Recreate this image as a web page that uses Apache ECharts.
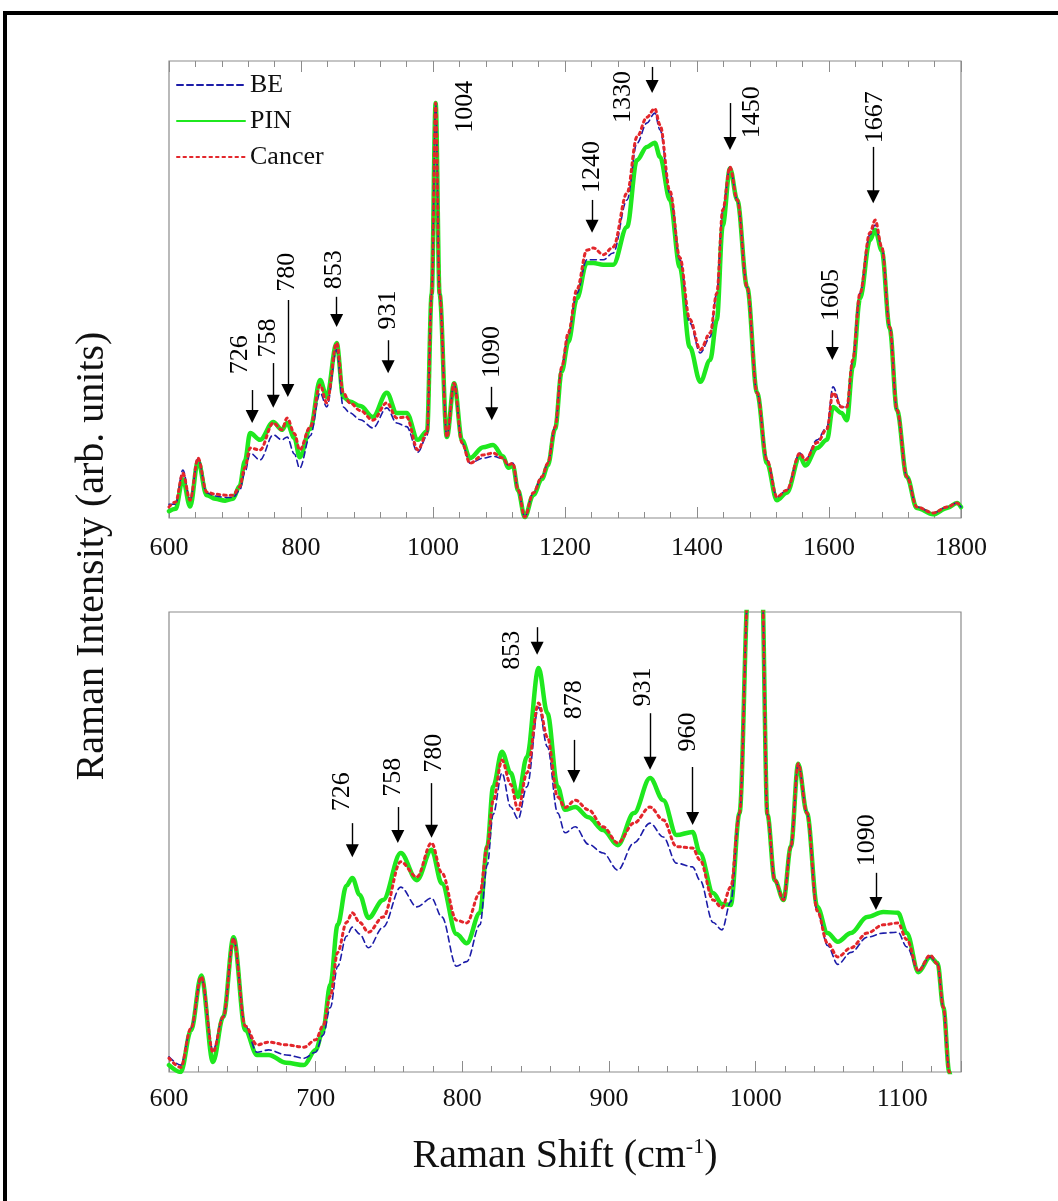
<!DOCTYPE html>
<html>
<head>
<meta charset="utf-8">
<script src="https://cdn.jsdelivr.net/npm/echarts@6/dist/echarts.min.js"></script>
<style>
  html, body { margin: 0; padding: 0; background: #fff; }
  #raman { width: 1058px; height: 1201px; }
</style>
</head>
<body>
<div id="raman"></div>
<script>
// upper panel: full spectrum 600-1800 cm-1
const topShift = [600, 610, 621, 632, 644, 657, 670, 685, 697, 707,
  715, 723, 738, 758, 771, 779, 790, 798, 814, 829,
  839, 854, 864, 874, 890, 909, 930, 945, 960, 977,
  991, 998, 1004, 1010, 1021, 1032, 1044, 1056, 1076, 1091,
  1106, 1114, 1121, 1129, 1139, 1152, 1165, 1174, 1185, 1195,
  1205, 1218, 1233, 1243, 1258, 1273, 1294, 1309, 1324, 1336,
  1344, 1359, 1374, 1389, 1405, 1420, 1430, 1439, 1450, 1461,
  1476, 1491, 1506, 1521, 1536, 1556, 1564, 1582, 1597, 1606,
  1619, 1627, 1636, 1647, 1662, 1670, 1680, 1692, 1703, 1718,
  1733, 1758, 1779, 1794, 1800]
const topBE = [3.0, 3.0, 10.5, 4.0, 13.0, 5.5, 4.8, 4.5, 4.5, 6.0,
  10, 14.2, 12.7, 18.2, 17.1, 17.7, 14, 10.9, 18, 27.4,
  24.3, 36.8, 24.3, 23.0, 21.5, 19.7, 24.1, 20.8, 20, 14.4,
  18, 49, 90.8, 49, 17.7, 29.5, 16.4, 12, 13.1, 13.5,
  13, 11.6, 12, 6.1, 0.2, 5.5, 9, 12, 19.9, 33,
  40, 49.2, 56.5, 56.5, 56.5, 58, 69.6, 82, 86.4, 88.6,
  84.9, 71.1, 56.5, 42.7, 36.1, 39.6, 49.2, 67.4, 76.8, 69.6,
  50.5, 27.4, 12.7, 4.6, 6.1, 14.2, 12.7, 17.1, 19.9, 28.7,
  24.3, 24.3, 34.6, 49.2, 62, 64.1, 59.3, 41.8, 23.6, 9,
  2.4, 1.1, 2.4, 3.3, 2.4]
const topPIN = [1.5, 2, 8.5, 2.5, 12.5, 5, 4.2, 3.8, 4.2, 7,
  12.5, 18.6, 17.1, 21.0, 19.3, 20.8, 17.5, 13.3, 19.5, 30.2,
  26.5, 38.3, 26.5, 25.5, 24.5, 22.1, 27.4, 23.0, 23.0, 17.1,
  19, 49, 90.8, 49, 17.7, 29.5, 17, 13.1, 15.5, 16.0,
  13.5, 11, 11.5, 6, 0.2, 5, 8.5, 11.5, 19.5, 32,
  38.5, 48, 55.8, 55.8, 55.4, 55.4, 63.7, 78.3, 81.2, 82.1,
  79, 69.6, 54.9, 37.4, 29.8, 34.6, 43.3, 64, 76.5, 69.6,
  50.5, 27.4, 12, 3.9, 5.5, 13.5, 11.5, 15.3, 17.1, 24.3,
  23, 21.4, 33, 48, 60.8, 63.0, 58.5, 41.5, 23.6, 9,
  2.2, 0.8, 2.2, 3.3, 2.4]
const topCancer = [2.4, 3.5, 9.8, 3.9, 13.1, 5.7, 5.2, 5.0, 5.0, 6.8,
  11, 15.3, 14.9, 20.8, 19.3, 21.9, 18.5, 14.9, 19.9, 29.1,
  25.2, 38.3, 27.4, 25.2, 23.5, 21.4, 25.2, 21.9, 22.1, 14.9,
  18.6, 49, 90.8, 49, 17.7, 29.5, 16.4, 12.0, 13.8, 14.2,
  13.1, 11.6, 12.0, 6.1, 0.2, 5.5, 9.0, 12.0, 19.9, 33,
  40.5, 50, 58.6, 59.1, 57.6, 59.3, 71.1, 83.4, 87.7, 89.6,
  86, 71.5, 57, 43.5, 36.8, 40.5, 49.2, 67.4, 76.8, 69.6,
  50.5, 27.4, 12.7, 4.6, 6.1, 14.2, 12.7, 16.5, 19.5, 27.4,
  24.3, 24.3, 34.6, 49.2, 62.4, 65.2, 59.3, 41.8, 23.6, 9.0,
  2.4, 1.1, 2.4, 3.3, 2.4]

// lower panel: zoom on 600-1140 cm-1
const botShift = [600, 608, 615, 622, 630, 637, 644, 652, 660, 668,
  680, 692, 700, 705, 710, 715, 721, 725, 730, 736,
  746, 758, 769, 779, 786, 796, 803, 812, 817, 821,
  827, 833, 838, 844, 852, 858, 865, 870, 877, 886,
  896, 906, 917, 928, 937, 946, 957, 962, 971, 977,
  983, 989, 995, 1000, 1004, 1008, 1013, 1019, 1024, 1029,
  1035, 1042, 1049, 1056, 1065, 1076, 1087, 1097, 1103, 1111,
  1119, 1124, 1128, 1132, 1136, 1140]
const botBE = [3.3, 1.5, 9.5, 20.5, 4.8, 12, 29, 10, 4.3, 4.8,
  3.7, 3.0, 4.3, 8, 14, 23, 29.5, 31.5, 30, 27,
  31.5, 40.2, 35.9, 37.8, 33.7, 23, 24, 32, 45, 56,
  65, 57.6, 55, 62, 79.3, 70.7, 56.3, 52, 53.3, 49.5,
  47.6, 43.9, 49.8, 54.1, 51.1, 45.4, 44.6, 41.7, 32.5, 30.9,
  37, 56.3, 105, 195, 110, 56, 41.7, 37.4, 49, 67,
  56.3, 35, 27.5, 23.4, 26, 29.3, 30.2, 30.4, 27.2, 22,
  25, 23.5, 14, 0, -12, -25]
const botPIN = [1.5, 0, 9, 21, 2.2, 12, 29.3, 9.1, 3.7, 3.7,
  2.0, 1.5, 4.8, 9, 19, 32, 40.5, 42.2, 38.5, 33.5,
  37.4, 47.6, 41.7, 48.3, 41, 30, 28, 34.6, 49, 62,
  69.6, 65, 59.8, 68.5, 87.8, 78, 62, 57, 57.6, 55.4,
  52.6, 49.3, 56.3, 63.9, 59.1, 51.5, 52.2, 47.6, 38.9, 36.5,
  36.3, 56.3, 105, 195, 110, 56, 41.7, 37.4, 49, 67,
  56.3, 35.9, 30.2, 28.3, 30.2, 33.7, 34.8, 34.6, 30.2, 21.7,
  25, 23.7, 14, 0, -12, -25]
const botCancer = [3, 1, 9.5, 20.7, 4.3, 12, 29, 10, 5.9, 6.5,
  5.9, 5.4, 7.0, 10, 16.5, 26, 32.5, 34.6, 32.5, 30.4,
  33.7, 45.7, 42.4, 49.8, 43.3, 33, 32.4, 39, 49, 59,
  67.8, 62.5, 57, 65, 80.2, 72.8, 59.8, 57.5, 59.1, 57,
  53.3, 49.8, 54.1, 57.6, 54.8, 49, 48.7, 46.1, 37.4, 35.7,
  40.2, 56.3, 105, 195, 110, 56, 41.7, 37.4, 49, 67,
  56.3, 35, 28, 25, 27, 30.2, 32, 32.4, 28.8, 22,
  25.4, 23.5, 14, 0, -12, -25]

// peak labels [text, shift, intensity] and arrows [shift, from, tip]
const topNotes = [['726', 708, 35.7], ['758', 750, 39.4], ['780', 779, 53.8], ['853', 851, 54.3],
  ['931', 932, 45.5], ['1004', 1048, 90], ['1090', 1089, 36.3], ['1240', 1241, 76.8],
  ['1330', 1288, 92.1], ['1450', 1483, 88.8], ['1605', 1604, 48.8], ['1667', 1670, 87.7]]
const topArrows = [[726, 28, 20.8], [758, 33.9, 24.1], [780, 47.7, 26.5], [854, 48.4, 41.8],
  [932, 38.9, 31.7], [1089, 28.7, 21.4], [1241, 69.6, 62.4], [1332, 98.7, 93],
  [1450, 90.8, 80.5], [1605, 41.1, 34.6], [1667, 81.2, 68.9]]
const botNotes = [['853', 834, 91.7], ['726', 718, 60.9], ['758', 753, 64.1], ['780', 781, 69.3],
  ['878', 876, 80.9], ['931', 923, 83.7], ['960', 954, 73.9], ['1090', 1076, 50.4]]
const botArrows = [[851, 96.7, 90.7], [725, 54.1, 46.7], [756, 57.6, 49.8], [779, 62.8, 50.9],
  [876, 72.2, 62.8], [928, 78, 65.7], [957, 66.3, 53.7], [1082, 43.3, 35.2]]

const FONT = '"Liberation Serif", "DejaVu Serif", serif'
const HEAD = 13 // arrow head size, px
const styles = {
  BE: { color: '#1c1ca8', width: 1.6, type: [6, 4] },
  PIN: { color: '#1fe81f', width: 4.5, type: 'solid' },
  Cancer: { color: '#e3262b', width: 3, type: [2.5, 4] },
}

function zip(xs, ys) {
  return xs.map(function (x, i) {
    return [x, ys[i]]
  })
}

function spectrum(name, xs, ys, idx) {
  const st = styles[name]
  return {
    name: name,
    type: 'line',
    xAxisIndex: idx === 0 ? 0 : 2,
    yAxisIndex: idx,
    data: zip(xs, ys),
    symbol: 'none',
    showSymbol: false,
    smooth: 0.35,
    smoothMonotone: 'x',
    clip: true,
    silent: true,
    color: st.color,
    lineStyle: { color: st.color, width: st.width, type: st.type, cap: 'round' },
    z: name === 'PIN' ? 2 : name === 'BE' ? 3 : 4,
  }
}

function notes(labels, arrows, idx) {
  // head is centred on the end point, so stop the line half a head short of the tip
  const half = (HEAD / 2) * (100 / (idx === 0 ? 457 : 460))
  return {
    type: 'scatter',
    xAxisIndex: idx === 0 ? 0 : 2,
    yAxisIndex: idx,
    symbolSize: 0,
    silent: true,
    z: 6,
    itemStyle: { opacity: 1, color: '#000' },
    data: labels.map(function (n) {
      return [n[1], n[2], n[0]]
    }),
    label: {
      show: true,
      position: 'inside',
      rotate: 90,
      fontFamily: FONT,
      fontSize: 26,
      color: '#000',
      opacity: 1,
      textBorderWidth: 0,
      formatter: function (p) {
        return p.value[2]
      },
    },
    markLine: {
      silent: true,
      symbol: ['none', 'triangle'],
      symbolSize: HEAD,
      label: { show: false },
      lineStyle: { color: '#000', width: 1.4, type: 'solid', opacity: 1 },
      itemStyle: { color: '#000' },
      data: arrows.map(function (a) {
        return [{ coord: [a[0], a[1]] }, { coord: [a[0], a[2] + half] }]
      }),
    },
  }
}

function xAxis(grid, min, max, step, pos, labels) {
  return {
    type: 'value',
    gridIndex: grid,
    position: pos,
    min: min,
    max: max,
    interval: step,
    axisLine: { show: false },
    splitLine: { show: false },
    axisTick: { show: true, inside: true, length: 11, lineStyle: { color: '#8c8c8c', width: 1 } },
    minorTick: { show: true, splitNumber: 5, length: 6, lineStyle: { color: '#8c8c8c', width: 1 } },
    axisLabel: {
      show: labels,
      showMaxLabel: max % step === 0,
      margin: 17,
      fontFamily: FONT,
      fontSize: 26,
      color: '#111',
      formatter: function (v) {
        return String(v)
      },
    },
  }
}

const chart = echarts.init(document.getElementById('raman'))
const bottomX = xAxis(1, 600, 1140, 100, 'bottom', true)
bottomX.axisLabel.margin = 14
bottomX.name = 'Raman Shift (cm{sup|-1})'
bottomX.nameLocation = 'middle'
bottomX.nameGap = 64
bottomX.nameTextStyle = {
  fontFamily: FONT,
  fontSize: 40,
  color: '#111',
  rich: { sup: { fontFamily: FONT, fontSize: 22, verticalAlign: 'top', color: '#111', padding: [0, 0, 14, 0] } },
}

chart.setOption({
  animation: false,
  backgroundColor: '#fff',
  grid: [
    { left: 169, top: 61, width: 792, height: 457, show: true, borderColor: '#8c8c8c', borderWidth: 1.2 },
    { left: 169, top: 612, width: 792, height: 460, show: true, borderColor: '#8c8c8c', borderWidth: 1.2 },
  ],
  legend: {
    data: ['BE', 'PIN', 'Cancer'],
    orient: 'vertical',
    left: 176,
    top: 72,
    padding: 0,
    itemWidth: 68,
    itemHeight: 20,
    itemGap: 10,
    selectedMode: false,
    itemStyle: { opacity: 0 },
    textStyle: { fontFamily: FONT, fontSize: 26, color: '#111' },
  },
  xAxis: [
    xAxis(0, 600, 1800, 200, 'bottom', true),
    xAxis(0, 600, 1800, 200, 'top', false),
    bottomX,
  ],
  yAxis: [
    { type: 'value', gridIndex: 0, min: 0, max: 100, show: false },
    { type: 'value', gridIndex: 1, min: 0, max: 100, show: false },
  ],
  graphic: [
    {
      type: 'rect',
      shape: { x: 5, y: 13, width: 1200, height: 1300 },
      style: { fill: 'none', stroke: '#000', lineWidth: 4 },
      silent: true,
    },
    {
      type: 'text',
      x: 92,
      y: 556,
      rotation: Math.PI / 2,
      style: {
        text: 'Raman Intensity (arb. units)',
        font: '40px ' + FONT,
        fill: '#111',
        align: 'center',
        verticalAlign: 'middle',
      },
      silent: true,
    },
  ],
  series: [
    spectrum('PIN', topShift, topPIN, 0),
    spectrum('BE', topShift, topBE, 0),
    spectrum('Cancer', topShift, topCancer, 0),
    spectrum('PIN', botShift, botPIN, 1),
    spectrum('BE', botShift, botBE, 1),
    spectrum('Cancer', botShift, botCancer, 1),
    notes(topNotes, topArrows, 0),
    notes(botNotes, botArrows, 1),
  ],
})
</script>
</body>
</html>
